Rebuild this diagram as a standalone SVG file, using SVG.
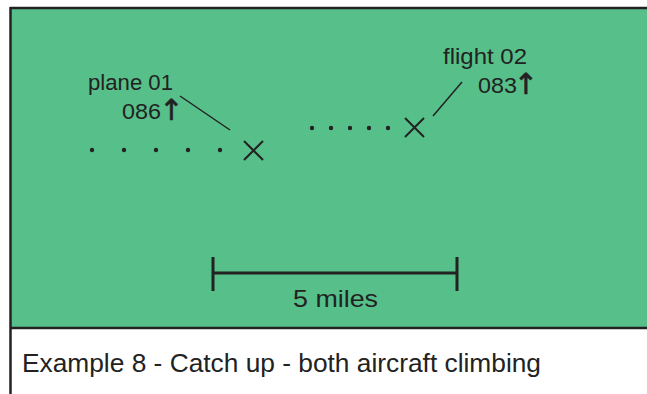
<svg xmlns="http://www.w3.org/2000/svg" width="647" height="394" viewBox="0 0 647 394">
<style>
.t{font-family:"Liberation Sans",Arial,sans-serif;fill:#222}
.ln{stroke:#222;fill:none}
.dot{fill:#222}
.ar{font-family:"DejaVu Sans",sans-serif;font-size:29px;fill:#222;stroke:#222;stroke-width:0.6;text-anchor:middle}
</style>
<rect x="0" y="0" width="647" height="394" fill="#fff"/>
<rect id="panel" x="10" y="8" width="640" height="320" fill="#57BF89"/>
<line class="ln" x1="10" y1="8" x2="647" y2="8" stroke-width="2.5" stroke="#333"/>
<line class="ln" x1="10.5" y1="7" x2="10.5" y2="394" stroke-width="2.5" stroke="#333"/>
<line class="ln" x1="10" y1="328" x2="647" y2="328" stroke-width="2.5" stroke="#333"/>

<g id="plane01">
  <g class="dot">
    <circle cx="92" cy="150" r="2.2"/><circle cx="124" cy="150" r="2.2"/><circle cx="156" cy="150" r="2.2"/><circle cx="188" cy="150" r="2.2"/><circle cx="220" cy="150" r="2.2"/>
  </g>
  <path class="ln" stroke-width="2" d="M244,141 L263,160 M263,141 L244,160"/>
  <text class="t" x="88" y="90" font-size="22" textLength="85" lengthAdjust="spacingAndGlyphs">plane 01</text>
  <text class="t" x="122" y="119" font-size="22" textLength="39" lengthAdjust="spacingAndGlyphs">086</text>
  <text class="ar" x="171.5" y="120">↑</text>
</g>

<g id="flight02">
  <g class="dot">
    <circle cx="312" cy="128" r="2.2"/><circle cx="331" cy="128" r="2.2"/><circle cx="350" cy="128" r="2.2"/><circle cx="369" cy="128" r="2.2"/><circle cx="388" cy="128" r="2.2"/>
  </g>
  <path class="ln" stroke-width="2" d="M405,118 L424,137 M424,118 L405,137"/>
  <text class="t" x="443" y="64" font-size="22" textLength="84" lengthAdjust="spacingAndGlyphs">flight 02</text>
  <text class="t" x="478" y="93" font-size="22" textLength="39" lengthAdjust="spacingAndGlyphs">083</text>
  <text class="ar" x="526" y="94">↑</text>
</g>

<g id="connectors">
  <line class="ln" x1="180" y1="96" x2="230" y2="130" stroke-width="1.5"/>
  <line class="ln" x1="433" y1="116" x2="462" y2="82" stroke-width="1.5"/>
</g>

<g id="scale">
  <path class="ln" stroke-width="3" d="M213,257 V291 M457,257 V291 M213,273 H457"/>
  <text class="t" x="335.5" y="307" font-size="24" text-anchor="middle" textLength="85" lengthAdjust="spacingAndGlyphs">5 miles</text>
</g>

<text class="t" x="22" y="372" font-size="26" textLength="519" lengthAdjust="spacingAndGlyphs">Example 8 - Catch up - both aircraft climbing</text>
</svg>
